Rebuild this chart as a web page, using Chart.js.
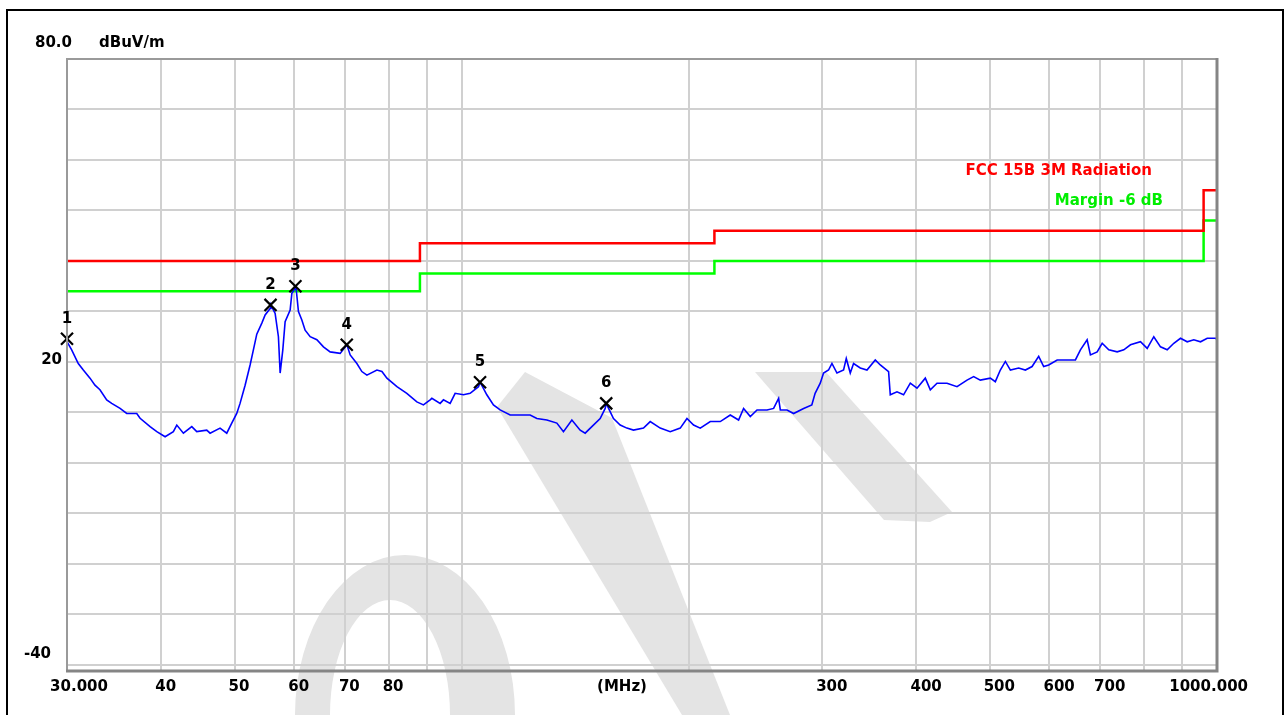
<!DOCTYPE html>
<html>
<head>
<meta charset="utf-8">
<title>Radiated emission 30 - 1000 MHz</title>
<script src="https://cdn.jsdelivr.net/npm/chart.js@4.4.1/dist/chart.umd.min.js"></script>
<style>
  html, body { margin: 0; padding: 0; background: #fff; }
  #wrap { position: relative; width: 1285px; height: 715px; overflow: hidden; }
  canvas { display: block; }
</style>
</head>
<body>
<div id="wrap"><canvas id="emi" width="1285" height="715"></canvas></div>
<script>
// measured trace (MHz, dBuV/m)
const freqMHz = [
  30.00, 30.43, 31.05, 31.53, 32.18, 32.67, 33.17, 33.86, 34.38, 35.27,
  35.99, 37.11, 37.49, 38.65, 39.45, 40.46, 41.49, 41.93, 42.78, 43.89,
  44.56, 45.94, 46.41, 47.84, 48.83, 49.58, 50.34, 50.85, 51.64, 52.43,
  52.96, 53.51, 54.34, 54.89, 55.73, 55.85, 56.59, 57.16, 57.46, 57.93,
  58.34, 59.24, 59.55, 60.15, 60.28, 60.76, 61.39, 62.01, 62.97, 64.27,
  65.57, 66.93, 69.00, 70.43, 71.14, 72.61, 73.72, 74.86, 77.18, 78.37,
  79.57, 82.04, 84.55, 87.18, 88.95, 90.79, 91.26, 93.59, 94.54, 96.49,
  97.97, 100.49, 102.56, 105.19, 105.73, 107.91, 110.11, 112.38, 115.87, 119.45,
  123.15, 125.70, 129.59, 133.60, 136.32, 139.86, 143.44, 145.65, 148.65, 152.46,
  154.81, 155.28, 158.78, 162.06, 165.40, 168.77, 174.00, 177.60, 183.10, 188.78,
  194.63, 198.66, 202.70, 206.88, 213.30, 219.91, 226.71, 232.52, 236.10, 240.98,
  245.95, 253.58, 258.73, 262.71, 264.08, 269.53, 275.01, 283.53, 290.69, 293.64,
  298.26, 301.29, 305.92, 309.10, 313.86, 320.25, 322.90, 326.86, 330.17, 336.98,
  343.94, 352.76, 358.19, 367.36, 369.27, 376.90, 384.56, 392.50, 400.62, 410.88,
  417.21, 425.82, 439.01, 452.61, 466.63, 476.12, 485.94, 501.0, 508.7, 516.5,
  524.5, 532.6, 546.2, 557.5, 569.0, 580.6, 589.5, 598.6, 614.2, 633.2,
  649.4, 659.4, 673.0, 679.8, 693.9, 704.6, 718.9, 737.6, 752.6, 768.1,
  791.9, 808.3, 824.7, 841.7, 859.1, 876.6, 894.7, 913.1, 931.7, 951.0,
  970.6, 995.5, 1000
];
const levelDb = [
  24.0, 22.4, 19.7, 18.4, 16.8, 15.4, 14.5, 12.5, 11.8, 10.8,
  9.8, 9.8, 8.85, 7.2, 6.2, 5.2, 6.2, 7.5, 5.9, 7.2,
  6.2, 6.5, 5.9, 6.9, 5.9, 7.9, 9.8, 11.8, 15.4, 19.4,
  22.4, 25.5, 27.7, 29.3, 30.6, 31.3, 29.6, 25.0, 17.8, 22.4,
  28.0, 30.3, 33.6, 34.6, 35.1, 30.0, 28.3, 26.3, 25.0, 24.4,
  23.0, 22.0, 21.7, 23.4, 21.4, 19.7, 18.1, 17.4, 18.4, 18.1,
  16.8, 15.1, 13.8, 12.1, 11.5, 12.5, 12.8, 11.8, 12.5, 11.8,
  13.8, 13.5, 13.8, 15.1, 16.0, 13.5, 11.5, 10.5, 9.5, 9.5,
  9.5, 8.8, 8.5, 7.9, 6.2, 8.5, 6.5, 5.9, 7.2, 8.8,
  10.8, 11.8, 8.8, 7.5, 6.9, 6.5, 6.9, 8.2, 6.9, 6.2,
  6.9, 8.8, 7.5, 6.9, 8.2, 8.2, 9.5, 8.5, 10.8, 9.2,
  10.5, 10.5, 10.8, 12.8, 10.5, 10.5, 9.8, 10.8, 11.5, 13.8,
  15.8, 17.8, 18.4, 19.7, 17.8, 18.4, 20.7, 17.8, 19.7, 18.8,
  18.4, 20.4, 19.4, 18.1, 13.5, 14.1, 13.5, 15.8, 14.8, 16.8,
  14.5, 15.8, 15.8, 15.1, 16.4, 17.1, 16.4, 16.8, 16.1, 18.4,
  20.1, 18.4, 18.8, 18.4, 19.1, 21.1, 19.1, 19.4, 20.4, 20.4,
  20.4, 22.4, 24.4, 21.4, 22.0, 23.7, 22.4, 22.0, 22.4, 23.4,
  24.0, 22.7, 25.0, 23.0, 22.4, 23.7, 24.7, 24.0, 24.4, 24.0,
  24.7, 24.7, 24.5
];

// FCC 15B class B, 3 m limit and the -6 dB margin line
const limitFreq = [30, 88, 88, 216, 216, 960, 960, 1000];
const limitDb = [40, 40, 43.5, 43.5, 46, 46, 54, 54];
const marginDb = [34, 34, 37.5, 37.5, 40, 40, 48, 48];

// peak markers
const markerNo = ['1', '2', '3', '4', '5', '6'];
const markerFreq = [30.0, 55.8, 60.2, 70.4, 105.7, 155.3];
const markerDb = [24.6, 31.3, 35.0, 23.4, 16.0, 11.8];

// axes
const xGrid = [30, 40, 50, 60, 70, 80, 90, 100, 200, 300, 400, 500, 600, 700, 800, 900, 1000];
const xTickValues = [30, 40, 50, 60, 70, 80, 300, 400, 500, 600, 700, 1000];
const xTickText = ['30.000', '40', '50', '60', '70', '80', '300', '400', '500', '600', '700', '1000.000'];
const yGrid = [-40, -30, -20, -10, 0, 10, 20, 30, 40, 50, 60, 70, 80];
const yTickValues = [80, 20, -40];
const yTickText = ['80.0', '20', '-40'];

const FONT = 'bold 15px "DejaVu Sans", sans-serif';

// grey "draft" stamp behind the plot, cut off at its top edge
function drawStamp(ctx) {
  ctx.save();
  ctx.beginPath();
  ctx.rect(0, 372, 1285, 343);
  ctx.clip();
  ctx.fillStyle = '#e4e4e4';
  // arch
  ctx.beginPath();
  ctx.ellipse(405, 715, 110, 160, 0, Math.PI, 2 * Math.PI);
  ctx.ellipse(390, 715, 60, 115, 0, 2 * Math.PI, Math.PI, true);
  ctx.closePath();
  ctx.fill('evenodd');
  // left diagonal stroke
  ctx.beginPath();
  ctx.moveTo(525, 372);
  ctx.lineTo(612, 418);
  ctx.lineTo(730, 715);
  ctx.lineTo(682, 715);
  ctx.lineTo(497, 407);
  ctx.closePath();
  ctx.fill();
  // right diagonal stroke
  ctx.beginPath();
  ctx.moveTo(755, 372);
  ctx.lineTo(826, 372);
  ctx.lineTo(952, 512);
  ctx.lineTo(930, 522);
  ctx.lineTo(884, 520);
  ctx.closePath();
  ctx.fill();
  ctx.restore();
}

const frameAndText = {
  id: 'frameAndText',
  beforeDraw(chart) {
    const ctx = chart.ctx;
    ctx.save();
    ctx.fillStyle = '#fff';
    ctx.fillRect(0, 0, chart.width, chart.height);
    drawStamp(ctx);
    // outer black frame
    ctx.strokeStyle = '#000';
    ctx.lineWidth = 2;
    ctx.beginPath();
    ctx.moveTo(7, chart.height + 2);
    ctx.lineTo(7, 10);
    ctx.lineTo(1283, 10);
    ctx.lineTo(1283, chart.height + 2);
    ctx.stroke();
    ctx.restore();
  },
  afterDraw(chart) {
    const ctx = chart.ctx;
    const a = chart.chartArea;
    const xs = chart.scales.x, ys = chart.scales.y;
    ctx.save();
    // plot frame
    ctx.strokeStyle = '#9a9a9a';
    ctx.lineWidth = 2;
    ctx.beginPath();
    ctx.moveTo(a.left, a.bottom);
    ctx.lineTo(a.left, a.top);
    ctx.lineTo(a.right, a.top);
    ctx.stroke();
    ctx.strokeStyle = '#858585';
    ctx.lineWidth = 3;
    ctx.beginPath();
    ctx.moveTo(a.left - 1, a.bottom);
    ctx.lineTo(a.right, a.bottom);
    ctx.lineTo(a.right, a.top - 1);
    ctx.stroke();

    ctx.font = FONT;
    ctx.fillStyle = '#000';
    ctx.textBaseline = 'middle';

    // x tick labels
    xTickValues.forEach((v, i) => {
      const px = xs.getPixelForValue(v);
      if (i === 0) {
        ctx.textAlign = 'center';
        ctx.fillText(xTickText[i], px + 12, a.bottom + 16);
      } else if (i === xTickValues.length - 1) {
        ctx.textAlign = 'right';
        ctx.fillText(xTickText[i], px + 31, a.bottom + 16);
      } else {
        ctx.textAlign = 'left';
        ctx.fillText(xTickText[i], px - 6, a.bottom + 16);
      }
    });
    ctx.textAlign = 'center';
    ctx.fillText('(MHz)', a.left + 555, a.bottom + 16);

    // y tick labels
    ctx.textAlign = 'right';
    yTickValues.forEach((v, i) => {
      const py = ys.getPixelForValue(v);
      if (i === 0) ctx.fillText(yTickText[i], a.left + 5, py - 16);
      else if (i === yTickValues.length - 1) ctx.fillText(yTickText[i], a.left - 16, py - 11);
      else ctx.fillText(yTickText[i], a.left - 5, py - 2);
    });
    ctx.textAlign = 'left';
    ctx.fillText('dBuV/m', a.left + 32, ys.getPixelForValue(80) - 16);

    // legend text
    ctx.textAlign = 'right';
    ctx.fillStyle = '#ff0000';
    ctx.fillText('FCC 15B 3M Radiation', a.right - 65, a.top + 112);
    ctx.fillStyle = '#00ee00';
    ctx.fillText('Margin -6 dB', a.right - 54, a.top + 142);

    // marker numbers
    ctx.fillStyle = '#000';
    ctx.textAlign = 'center';
    markerNo.forEach((n, i) => {
      const px = xs.getPixelForValue(markerFreq[i]);
      const py = ys.getPixelForValue(markerDb[i]);
      ctx.fillText(n, px, py - 20);
    });
    ctx.restore();
  }
};

const ctx = document.getElementById('emi').getContext('2d');
new Chart(ctx, {
  type: 'line',
  data: {
    datasets: [
      {
        label: 'FCC 15B 3M Radiation',
        data: limitFreq.map((f, i) => ({ x: f, y: limitDb[i] })),
        borderColor: '#ff0000',
        borderWidth: 2.5,
        pointRadius: 0,
        order: 2
      },
      {
        label: 'Margin -6 dB',
        data: limitFreq.map((f, i) => ({ x: f, y: marginDb[i] })),
        borderColor: '#00ff00',
        borderWidth: 2.5,
        pointRadius: 0,
        order: 3
      },
      {
        label: 'Peak',
        data: freqMHz.map((f, i) => ({ x: f, y: levelDb[i] })),
        borderColor: '#0000ff',
        borderWidth: 1.6,
        pointRadius: 0,
        order: 1
      },
      {
        label: 'Markers',
        data: markerFreq.map((f, i) => ({ x: f, y: markerDb[i] })),
        showLine: false,
        clip: false,
        pointStyle: 'crossRot',
        pointRadius: 8.5,
        borderColor: '#000',
        pointBorderWidth: 2.2,
        order: 0
      }
    ]
  },
  options: {
    responsive: false,
    animation: false,
    events: [],
    layout: { padding: { left: 67, top: 59, right: 68, bottom: 44 } },
    plugins: { legend: { display: false }, tooltip: { enabled: false } },
    scales: {
      x: {
        type: 'logarithmic',
        min: 30,
        max: 1000,
        afterBuildTicks: s => { s.ticks = xGrid.map(v => ({ value: v })); },
        ticks: { display: false },
        grid: { color: '#d0d0d0', lineWidth: 2, drawTicks: false },
        border: { display: false }
      },
      y: {
        type: 'linear',
        min: -41.2,
        max: 80,
        afterBuildTicks: s => { s.ticks = yGrid.map(v => ({ value: v })); },
        ticks: { display: false },
        grid: { color: '#d0d0d0', lineWidth: 2, drawTicks: false },
        border: { display: false }
      }
    }
  },
  plugins: [frameAndText]
});
</script>
</body>
</html>
